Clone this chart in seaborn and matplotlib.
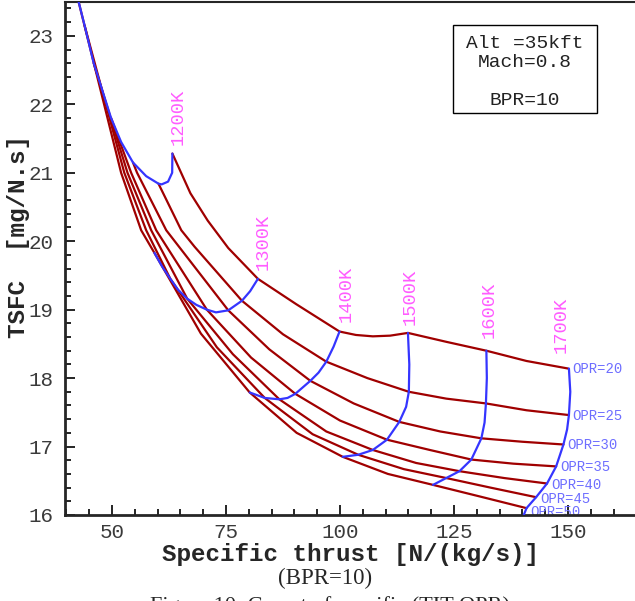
import matplotlib
matplotlib.use("Agg")
import matplotlib.pyplot as plt
from matplotlib.patches import Rectangle
import pandas as pd
import seaborn as sns

# carpet levels
tit_labels = ["1200K", "1300K", "1400K", "1500K", "1600K", "1700K"]
opr_labels = ["OPR=20", "OPR=25", "OPR=30", "OPR=35", "OPR=40", "OPR=45", "OPR=50"]

# constant-OPR lines: specific thrust [N/(kg/s)] vs TSFC [mg/N.s]
opr20_x = [63.25, 67.2, 71.0, 75.5, 82.0, 90.4, 99.9, 103.5, 107.2, 111.0, 114.9, 123.3, 132.1, 140.9, 150.0]
opr20_y = [21.28, 20.70, 20.30, 19.90, 19.45, 19.08, 18.68, 18.63, 18.61, 18.62, 18.66, 18.53, 18.40, 18.25, 18.14]
opr25_x = [60.2, 65.2, 68.1, 78.5, 87.5, 97.0, 106.0, 115.1, 123.3, 132.0, 140.9, 150.2]
opr25_y = [20.84, 20.16, 19.92, 19.13, 18.64, 18.24, 18.00, 17.80, 17.70, 17.63, 17.53, 17.46]
opr30_x = [54.6, 55.5, 61.9, 75.5, 84.5, 93.5, 103.0, 113.0, 122.0, 131.0, 140.0, 149.0]
opr30_y = [21.15, 21.00, 20.16, 18.99, 18.42, 17.96, 17.63, 17.36, 17.22, 17.12, 17.07, 17.03]
opr35_x = [49.8, 54.2, 59.7, 70.8, 80.5, 90.2, 100.0, 110.3, 119.7, 128.8, 138.0, 147.4]
opr35_y = [21.80, 21.00, 20.16, 19.00, 18.30, 17.77, 17.38, 17.10, 16.95, 16.81, 16.75, 16.71]
opr40_x = [46.0, 53.4, 58.6, 66.5, 76.5, 86.7, 97.0, 107.2, 116.7, 126.2, 136.0, 145.4]
opr40_y = [22.60, 21.00, 20.16, 19.16, 18.35, 17.69, 17.22, 16.95, 16.76, 16.64, 16.54, 16.46]
opr45_x = [44.0, 52.7, 57.5, 62.8, 73.0, 83.5, 94.0, 104.0, 114.0, 123.3, 133.0, 143.0]
opr45_y = [23.15, 21.00, 20.16, 19.45, 18.45, 17.71, 17.18, 16.88, 16.67, 16.54, 16.40, 16.26]
opr50_x = [42.3, 52.0, 56.4, 59.3, 69.5, 80.2, 90.5, 100.6, 110.5, 120.4, 130.7, 140.9]
opr50_y = [23.60, 21.00, 20.16, 19.83, 18.65, 17.79, 17.20, 16.85, 16.60, 16.44, 16.27, 16.10]

# constant-TIT lines
tit1200_x = [63.25, 63.2, 62.3, 60.9, 60.2, 57.5, 54.6, 52.0, 49.8, 46.0, 44.0, 42.3]
tit1200_y = [21.28, 21.00, 20.87, 20.83, 20.84, 20.95, 21.15, 21.45, 21.80, 22.60, 23.15, 23.60]
tit1300_x = [82.0, 80.3, 78.5, 75.5, 72.8, 70.8, 68.5, 66.5, 64.5, 62.8, 61.0, 59.3]
tit1300_y = [19.45, 19.27, 19.13, 18.99, 18.96, 19.00, 19.07, 19.16, 19.29, 19.45, 19.63, 19.83]
tit1400_x = [99.9, 98.6, 97.0, 95.3, 93.5, 90.2, 88.5, 86.7, 83.5, 80.2]
tit1400_y = [18.68, 18.46, 18.24, 18.08, 17.96, 17.77, 17.71, 17.69, 17.71, 17.79]
tit1500_x = [114.9, 115.2, 115.1, 114.5, 113.0, 110.3, 107.2, 104.0, 100.6]
tit1500_y = [18.66, 18.20, 17.80, 17.58, 17.36, 17.10, 16.95, 16.88, 16.85]
tit1600_x = [132.1, 132.2, 132.0, 131.7, 131.0, 128.8, 126.2, 123.3, 120.4]
tit1600_y = [18.40, 18.00, 17.63, 17.35, 17.12, 16.81, 16.64, 16.54, 16.44]
tit1700_x = [150.2, 150.5, 150.2, 149.8, 149.0, 147.4, 145.4, 143.0, 140.9, 140.0]
tit1700_y = [18.14, 17.80, 17.46, 17.25, 17.03, 16.71, 16.46, 16.26, 16.10, 15.95]

# label anchors
tit_lab_x = [64.5, 83.2, 101.4, 115.5, 132.8, 148.4]
tit_lab_y = [21.41, 19.58, 18.82, 18.78, 18.59, 18.37]
opr_lab_x = [150.9, 150.9, 149.8, 148.3, 146.4, 143.9, 141.8]
opr_lab_y = [18.14, 17.45, 17.02, 16.70, 16.44, 16.24, 16.04]

RED = "#a00000"
BLUE = "#3535ff"
MAGENTA = "#ff5cff"
LBLUE = "#6e6eff"
MONO = "Liberation Mono"


def long_table(xs, ys, names):
    rows = []
    for name, x, y in zip(names, xs, ys):
        for i, (a, b) in enumerate(zip(x, y)):
            rows.append({"line": name, "i": i, "thrust": a, "tsfc": b})
    return pd.DataFrame(rows)


df_opr = long_table(
    [opr20_x, opr25_x, opr30_x, opr35_x, opr40_x, opr45_x, opr50_x],
    [opr20_y, opr25_y, opr30_y, opr35_y, opr40_y, opr45_y, opr50_y],
    opr_labels)
df_tit = long_table(
    [tit1200_x, tit1300_x, tit1400_x, tit1500_x, tit1600_x, tit1700_x],
    [tit1200_y, tit1300_y, tit1400_y, tit1500_y, tit1600_y, tit1700_y],
    tit_labels)

sns.set_style("ticks")
plt.rcParams["font.family"] = [MONO, "DejaVu Sans"]

fig = plt.figure(figsize=(6.35, 6.01), dpi=100)
ax = fig.add_axes([65 / 635, 86 / 601, 570.5 / 635, 513.4 / 601])

sns.lineplot(data=df_opr, x="thrust", y="tsfc", units="line", estimator=None,
             sort=False, color=RED, lw=1.6, ax=ax, zorder=2)
sns.lineplot(data=df_tit, x="thrust", y="tsfc", units="line", estimator=None,
             sort=False, color=BLUE, lw=1.6, ax=ax, zorder=3)

for t, x, y in zip(tit_labels, tit_lab_x, tit_lab_y):
    ax.text(x, y, t, rotation=90, ha="center", va="bottom", color=MAGENTA,
            fontsize=13.5, family=MONO)
for t, x, y in zip(opr_labels, opr_lab_x, opr_lab_y):
    ax.text(x, y, t, ha="left", va="center", color=LBLUE, fontsize=10,
            family=MONO, zorder=1, clip_on=False)

# info box
ax.add_patch(Rectangle((0.680, 0.783), 0.2525, 0.1714, transform=ax.transAxes,
                       fill=False, edgecolor="black", lw=1.0, zorder=5))
for t, yy in zip(["Alt =35kft", "Mach=0.8", "BPR=10"], [0.919, 0.882, 0.808]):
    ax.text(0.806, yy, t, transform=ax.transAxes, ha="center", va="center",
            fontsize=14, family=MONO, color="#222222")

ax.set_xlim(39.7, 164.8)
ax.set_ylim(16, 23.5)
ax.set_xticks([50, 75, 100, 125, 150])
ax.set_xticks(range(40, 165, 5), minor=True)
ax.set_yticks(range(16, 24))
ax.set_yticks([16 + 0.2 * k for k in range(38)], minor=True)
ax.tick_params(which="both", direction="in", colors="black", labelcolor="#3a3a3a",
               labelsize=15, width=1.2)
ax.tick_params(which="major", length=7)
ax.tick_params(which="minor", length=4)
ax.tick_params(axis="y", pad=8)
ax.tick_params(axis="x", pad=6)
for lab in ax.get_xticklabels() + ax.get_yticklabels():
    lab.set_family(MONO)
ax.spines["right"].set_visible(False)
ax.spines["left"].set_linewidth(2)
ax.spines["bottom"].set_linewidth(2)
ax.spines["top"].set_linewidth(1.5)

ax.set_xlabel("Specific thrust [N/(kg/s)]", fontsize=17.5, fontweight="bold",
              family=MONO)
ax.xaxis.set_label_coords(0.5, -0.054)
ax.set_ylabel("TSFC  [mg/N.s]", fontsize=17.5, fontweight="bold",
              family=MONO)
ax.yaxis.set_label_coords(-0.062, 0.543)

fig.text(0.512, 1 - 578 / 601, "(BPR=10)", ha="center", va="center",
         fontsize=16.5, family="Liberation Serif")
fig.text(0.52, 1 - 596 / 601, "Figure 10: Carpet of specific (TIT-OPR)",
         ha="center", va="top", fontsize=16, family="Liberation Serif")

fig.savefig("out.png", dpi=100)
